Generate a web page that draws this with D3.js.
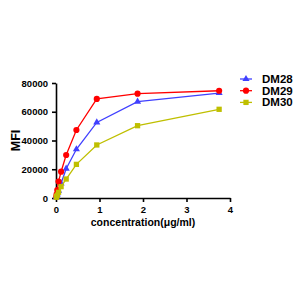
<!DOCTYPE html>
<html>
<head>
<meta charset="utf-8">
<script src="https://cdn.jsdelivr.net/npm/d3@7"></script>
<style>
  body { margin: 0; background: #fff; }
  svg { font-family: "Liberation Sans", Arial, sans-serif; font-weight: bold; }
</style>
</head>
<body>
<div id="chart"></div>
<script>
// 浓度 (2-fold serial dilution)
const conc = [3.75, 1.875, 0.9375, 0.469, 0.234, 0.117, 0.0586, 0.0293, 0.0146, 0.0073]
const dm28 = [73000, 67000, 52600, 33900, 20400, 10200, 5000, 2500, 1200, 600]
const dm29 = [74600, 72600, 68900, 47300, 29900, 18300, 11400, 5500, 2800, 1200]
const dm30 = [61700, 50300, 36900, 23400, 13200, 7900, 4000, 2000, 1000, 500]
const seriesNames = ['DM28', 'DM29', 'DM30']
const xTicks = [0, 1, 2, 3, 4]
const yTicks = [0, 20000, 40000, 60000, 80000]

const width = 300
const height = 300
const colors = ['#4040ff', '#ff0000', '#bfbf00']
const symbols = [d3.symbolTriangle, d3.symbolCircle, d3.symbolSquare]
const symSizes = [22, 30, 28]

const svg = d3.select('#chart').append('svg')
  .attr('width', width)
  .attr('height', height)

const x = d3.scaleLinear().domain([0, 4]).range([56, 230])
const y = d3.scaleLinear().domain([0, 80000]).range([198, 83])

// x轴
const xAxis = svg.append('g')
  .attr('transform', `translate(0,${y(0)})`)
  .call(d3.axisBottom(x).tickValues(xTicks).tickFormat(d3.format('d')).tickSize(4).tickSizeOuter(0))
// y轴
const yAxis = svg.append('g')
  .attr('transform', `translate(${x(0)},0)`)
  .call(d3.axisLeft(y).tickValues(yTicks).tickFormat(d3.format('d')).tickSize(4).tickSizeOuter(0))

svg.selectAll('.domain, .tick line')
  .attr('stroke', '#000')
  .attr('stroke-width', 1.6)
svg.selectAll('.tick text')
  .attr('font-size', 9.5)
  .attr('font-weight', 'bold')
  .attr('font-family', '"Liberation Sans", Arial, sans-serif')
  .attr('fill', '#000')
xAxis.selectAll('.tick text').attr('dy', '0.8em')
yAxis.selectAll('.tick text').attr('dx', '-1px')

// 坐标轴标题
svg.append('text')
  .attr('x', (x(0) + x(4)) / 2)
  .attr('y', 226)
  .attr('text-anchor', 'middle')
  .attr('font-size', 10.5)
  .text('concentration(μg/ml)')

svg.append('text')
  .attr('transform', `translate(20,${(y(0) + y(80000)) / 2}) rotate(-90)`)
  .attr('text-anchor', 'middle')
  .attr('font-size', 12.5)
  .text('MFI')

const data = [dm28, dm29, dm30].map((vals, i) => ({
  name: seriesNames[i],
  points: conc.map((c, j) => ({ c, v: vals[j] }))
}))

const line = d3.line().x(d => x(d.c)).y(d => y(d.v))

// 折线和标记
const seriesG = svg.append('g')
  .selectAll('g')
  .data(data)
  .join('g')

seriesG.append('path')
  .attr('fill', 'none')
  .attr('stroke', (d, i) => colors[i])
  .attr('stroke-width', 1.3)
  .attr('d', d => line(d.points))

seriesG.each(function(d, i) {
  d3.select(this).selectAll('path.pt')
    .data(d.points)
    .join('path')
    .attr('class', 'pt')
    .attr('fill', colors[i])
    .attr('transform', p => `translate(${x(p.c)},${y(p.v)})`)
    .attr('d', d3.symbol().type(symbols[i]).size(symSizes[i]))
})

// 图例
const legend = svg.append('g')
  .selectAll('g')
  .data(seriesNames)
  .join('g')
  .attr('transform', (d, i) => `translate(240,${79 + i * 11.7})`)

legend.append('line')
  .attr('x1', 0).attr('x2', 12)
  .attr('stroke', (d, i) => colors[i])
  .attr('stroke-width', 1.3)
legend.append('path')
  .attr('transform', 'translate(6,0)')
  .attr('fill', (d, i) => colors[i])
  .attr('d', (d, i) => d3.symbol().type(symbols[i]).size(symSizes[i])())
legend.append('text')
  .attr('x', 22)
  .attr('dy', '0.35em')
  .attr('font-size', 11.5)
  .text(d => d)
</script>
</body>
</html>
